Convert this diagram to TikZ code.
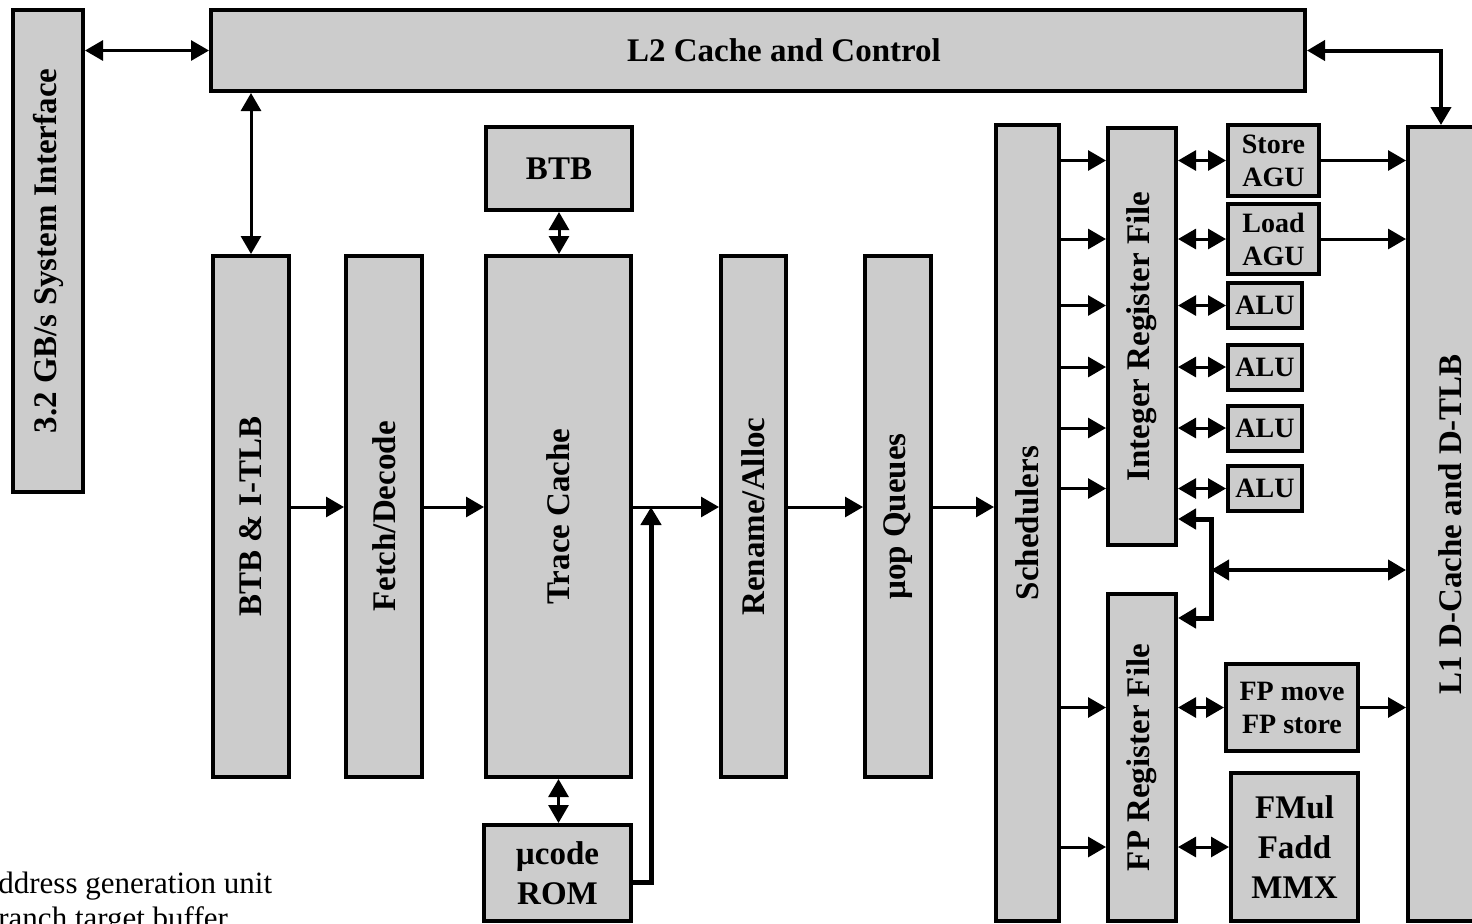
\documentclass[tikz,border=0pt]{standalone}
\usepackage{fontspec}
\setmainfont{Liberation Serif}
\usepackage{graphicx}
\usepackage{tikz}
\usetikzlibrary{arrows.meta,calc}
\definecolor{BoxGray}{RGB}{204,204,204}
\newcommand{\vtext}[1]{\rotatebox{90}{#1}}

\begin{document}
\begin{tikzpicture}[
  x=0.5pt, y=-0.5pt,
  unit/.style={
    rectangle,
    draw=black,
    line width=2pt,
    fill=BoxGray,
    inner sep=0pt,
    align=center,
    font=\bfseries\fontsize{16.5}{20}\selectfont
  },
  smallunit/.style={
    unit,
    font=\bfseries\fontsize{14}{16.5}\selectfont
  },
  legend/.style={
    inner sep=0pt,
    anchor=base west,
    font=\fontsize{15.5}{17}\selectfont
  },
  arrow/.style={-{Triangle[length=9pt,width=10pt]}, line width=1.5pt},
  biarrow/.style={{Triangle[length=9pt,width=10pt]}-{Triangle[length=9pt,width=10pt]}, line width=1.5pt}
]
\useasboundingbox (0,0) rectangle (1472,923);

% front end
\node[unit, minimum width=35pt, minimum height=241pt] (sysif) at (48,251) {\vtext{3.2 GB/s System Interface}};
\node[unit, minimum width=547pt, minimum height=40.5pt] (l2) at (758,50.5) {\hspace*{26pt}L2 Cache and Control};
\node[unit, minimum width=38pt, minimum height=260.5pt] (btbitlb) at (251,516.5) {\vtext{BTB \& I-TLB}};
\node[unit, minimum width=38pt, minimum height=260.5pt] (fetch) at (384,516.5) {\vtext{Fetch/Decode}};
\node[unit, minimum width=72.5pt, minimum height=260.5pt] (trace) at (558.5,516.5) {\vtext{Trace Cache}};
\node[unit, minimum width=73pt, minimum height=41.5pt] (btb) at (559,168.5) {BTB};
\node[unit, minimum width=73.5pt, minimum height=48pt] (ucode) at (557.5,873) {µcode\\ROM};
\node[unit, minimum width=32.5pt, minimum height=260.5pt] (rename) at (753.5,516.5) {\vtext{Rename/Alloc}};
\node[unit, minimum width=33pt, minimum height=260.5pt] (uopq) at (898,516.5) {\vtext{µop Queues}};

% execution core
\node[unit, minimum width=31.5pt, minimum height=398pt] (sched) at (1027.5,523) {\vtext{Schedulers}};
\node[unit, minimum width=34pt, minimum height=208.5pt] (intrf) at (1142,336.5) {\vtext{Integer Register File}};
\node[unit, minimum width=34pt, minimum height=163.5pt] (fprf) at (1142,757.5) {\vtext{FP Register File}};
\node[smallunit, minimum width=45.5pt, minimum height=35.5pt] (stagu) at (1273.5,160.5) {Store\\AGU};
\node[smallunit, minimum width=45.5pt, minimum height=35pt] (ldagu) at (1273.5,239) {Load\\AGU};
\node[smallunit, minimum width=37pt, minimum height=22.5pt] (alua) at (1265,305.5) {ALU};
\node[smallunit, minimum width=37pt, minimum height=22.5pt] (alub) at (1265,367) {ALU};
\node[smallunit, minimum width=37pt, minimum height=22.5pt] (aluc) at (1265,428) {ALU};
\node[smallunit, minimum width=37pt, minimum height=22.5pt] (alud) at (1265,488.5) {ALU};
\node[smallunit, minimum width=66pt, minimum height=43.5pt] (fpmove) at (1292,707.5) {FP move\\FP store};
\node[unit, minimum width=63.5pt, minimum height=74pt] (fmul) at (1294.5,847) {FMul\\Fadd\\MMX};
\node[unit, minimum width=42pt, minimum height=397pt] (l1) at (1450,524) {\vtext{L1 D-Cache and D-TLB}};

% legend, cut at the page edge
\node[legend] (lega) at (-2,893) {ddress generation unit};
\node[legend] (legb) at (-2,928) {ranch target buffer};

\coordinate (flow) at (0,507);
\coordinate (merge) at (651,507);
\coordinate (tee) at (1211,570);

\draw[biarrow] (sysif.east |- l2.west) -- (l2.west);
\draw[biarrow] (l2.south -| btbitlb.north) -- (btbitlb.north);
\draw[biarrow, line width=2pt] (l2.east) -| ([xshift=-4.5pt]l1.north);
\draw[arrow] (btbitlb.east |- flow) -- (fetch.west |- flow);
\draw[arrow] (fetch.east |- flow) -- (trace.west |- flow);
\draw[biarrow] (btb.south) -- (btb.south |- trace.north);
\draw[biarrow] (trace.south) -- (trace.south |- ucode.north);
\draw[arrow] (trace.east |- flow) -- (rename.west |- flow);
\draw[arrow, line width=2.5pt] ([yshift=-4.5pt]ucode.east) -| (merge);
\draw[arrow] (rename.east |- flow) -- (uopq.west |- flow);
\draw[arrow] (uopq.east |- flow) -- (sched.west |- flow);

% schedulers to register files
\draw[arrow] (sched.east |- stagu.west) -- (intrf.west |- stagu.west);
\draw[arrow] (sched.east |- ldagu.west) -- (intrf.west |- ldagu.west);
\draw[arrow] (sched.east |- alua.west) -- (intrf.west |- alua.west);
\draw[arrow] (sched.east |- alub.west) -- (intrf.west |- alub.west);
\draw[arrow] (sched.east |- aluc.west) -- (intrf.west |- aluc.west);
\draw[arrow] (sched.east |- alud.west) -- (intrf.west |- alud.west);
\draw[arrow] (sched.east |- fpmove.west) -- (fprf.west |- fpmove.west);
\draw[arrow] (sched.east |- fmul.west) -- (fprf.west |- fmul.west);

% register files to units
\draw[biarrow] (intrf.east |- stagu.west) -- (stagu.west);
\draw[biarrow] (intrf.east |- ldagu.west) -- (ldagu.west);
\draw[biarrow] (intrf.east |- alua.west) -- (alua.west);
\draw[biarrow] (intrf.east |- alub.west) -- (alub.west);
\draw[biarrow] (intrf.east |- aluc.west) -- (aluc.west);
\draw[biarrow] (intrf.east |- alud.west) -- (alud.west);
\draw[biarrow] (fprf.east |- fpmove.west) -- (fpmove.west);
\draw[biarrow] (fprf.east |- fmul.west) -- (fmul.west);

% units to L1
\draw[arrow] (stagu.east) -- (stagu.east -| l1.west);
\draw[arrow] (ldagu.east) -- (ldagu.east -| l1.west);
\draw[arrow] (fpmove.east) -- (fpmove.east -| l1.west);
\draw[arrow, line width=2.5pt] (tee) |- ([yshift=14pt]intrf.south east);
\draw[arrow, line width=2.5pt] (tee) |- ([yshift=-13pt]fprf.north east);
\draw[biarrow, line width=2pt] (tee) -- (tee -| l1.west);
\end{tikzpicture}
\end{document}
